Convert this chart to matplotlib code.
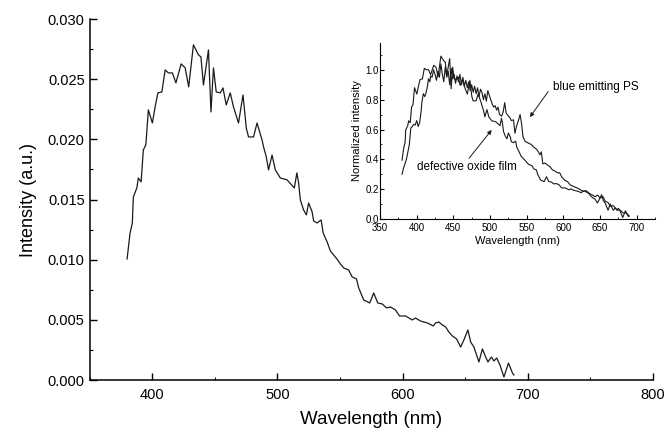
import matplotlib
matplotlib.use("Agg")
import matplotlib.pyplot as plt
from matplotlib.ticker import MultipleLocator, FormatStrFormatter

plt.rcParams['font.family'] = ['Liberation Sans', 'DejaVu Sans']

# ---- main spectrum (defective oxide film) ----
wavelength = [380, 382.4, 384.2, 385.0, 387.8, 389.0, 391.2, 393.0, 395.0, 397.0,
              400.2, 402.4, 404.6, 407.8, 410.4, 413.0, 416.2, 419.0, 423.2, 426.4,
              429.2, 433.0, 437.0, 439.0, 441.0, 445.0, 447.0, 449.0, 451.2, 454.4,
              456.6, 459.2, 462.4, 465.0, 469.0, 472.6, 475.2, 477.0, 481.0, 483.8,
              487.8, 489.0, 491.2, 493.0, 495.8, 498.4, 502.4, 507.8, 513.6, 515.6,
              517.0, 518.4, 521.0, 523.2, 525.0, 527.8, 529.0, 531.8, 535.0, 536.6,
              539.8, 542.4, 545.0, 548.2, 550.4, 553.0, 557.0, 559.8, 563.2, 565.0,
              569.0, 573.8, 577.0, 580.2, 583.8, 587.2, 590.4, 594.4, 597.6, 602.4,
              607.8, 610.4, 614.4, 619.8, 624.6, 626.4, 629.0, 631.8, 634.4, 637.0,
              639.8, 643.2, 646.4, 649.0, 652.2, 654.4, 657.0, 661.0, 663.8, 666.4,
              668.2, 671.0, 673.0, 675.2, 677.8, 681.0, 684.6, 687.8, 689.0]
intensity = [0.01006, 0.01222, 0.01305, 0.01521, 0.01596, 0.01679, 0.01646, 0.01912, 0.01954, 0.02245,
             0.02136, 0.02269, 0.02386, 0.02394, 0.02577, 0.02552, 0.02552, 0.02469, 0.02627, 0.02594,
             0.02436, 0.02785, 0.02702, 0.02685, 0.02452, 0.02743, 0.02228, 0.02594, 0.02394, 0.02386,
             0.02427, 0.02286, 0.02386, 0.02269, 0.02136, 0.02369, 0.02095, 0.02020, 0.02020, 0.02136,
             0.01995, 0.01937, 0.01854, 0.01746, 0.01870, 0.01746, 0.01679, 0.01663, 0.01596, 0.01721,
             0.01638, 0.01496, 0.01413, 0.01372, 0.01471, 0.01397, 0.01322, 0.01305, 0.01330, 0.01222,
             0.01147, 0.01072, 0.01039, 0.00998, 0.00964, 0.00931, 0.00914, 0.00856, 0.00840, 0.00765,
             0.00665, 0.00640, 0.00723, 0.00640, 0.00632, 0.00599, 0.00607, 0.00582, 0.00532, 0.00532,
             0.00499, 0.00515, 0.00490, 0.00474, 0.00449, 0.00474, 0.00482, 0.00457, 0.00441, 0.00399,
             0.00366, 0.00341, 0.00274, 0.00333, 0.00416, 0.00316, 0.00274, 0.00150, 0.00258, 0.00191,
             0.00150, 0.00191, 0.00158, 0.00183, 0.00125, 0.00025, 0.00141, 0.00058, 0.00042]

# normalisation reference used for the inset's oxide-film curve
oxide_norm_ref = 0.0255
oxide_norm = [v / oxide_norm_ref for v in intensity]

# ---- inset: blue emitting PS (normalized) ----
ps_wavelength = [380, 382, 384, 386, 388, 390, 392, 394, 396, 398,
                 400, 402, 404, 406, 407, 409, 411, 413, 415, 416,
                 418, 419, 421, 423, 425, 427, 429, 431, 433, 435,
                 437, 439, 441, 443, 445, 447, 449, 451, 453, 455,
                 457, 459, 461, 463, 465, 467, 469, 471, 473, 475,
                 477, 479, 481, 483, 485, 487, 489, 491, 493, 495,
                 497, 499, 501, 503, 505, 507, 509, 511, 513, 516,
                 518, 520, 522, 525, 527, 529, 532, 534, 536, 539,
                 541, 543, 545, 548, 552, 556, 560, 563, 566, 568,
                 570, 572, 575, 579, 582, 585, 589, 592, 595, 598,
                 602, 606, 609, 613, 618, 622, 627, 631, 636, 640,
                 643, 647, 650, 654, 657, 661, 664, 668, 673, 677,
                 682, 686, 690]
ps_norm = [0.30, 0.34, 0.37, 0.40, 0.45, 0.50, 0.61, 0.62, 0.635, 0.63,
           0.66, 0.62, 0.645, 0.72, 0.78, 0.84, 0.82, 0.85, 0.90, 0.94,
           0.92, 0.96, 0.95, 1.00, 0.97, 0.93, 0.99, 0.95, 1.04, 0.97,
           0.92, 1.02, 0.95, 0.99, 0.90, 1.01, 0.94, 0.97, 0.91, 0.96,
           0.92, 0.97, 0.90, 0.95, 0.89, 0.93, 0.88, 0.92, 0.86, 0.90,
           0.85, 0.89, 0.84, 0.88, 0.82, 0.87, 0.85, 0.80, 0.84, 0.79,
           0.86, 0.83, 0.80, 0.77, 0.75, 0.76, 0.73, 0.75, 0.70, 0.69,
           0.72, 0.78, 0.71, 0.69, 0.68, 0.66, 0.665, 0.575, 0.62, 0.665,
           0.70, 0.64, 0.55, 0.52, 0.51, 0.50, 0.48, 0.47, 0.45, 0.43,
           0.45, 0.37, 0.375, 0.36, 0.35, 0.33, 0.32, 0.31, 0.31, 0.28,
           0.26, 0.25, 0.23, 0.22, 0.21, 0.20, 0.185, 0.19, 0.17, 0.16,
           0.15, 0.16, 0.14, 0.15, 0.12, 0.11, 0.085, 0.09, 0.06, 0.06,
           0.04, 0.04, 0.02]

line_color = '#1a1a1a'

fig = plt.figure(figsize=(6.66, 4.33), dpi=100)
ax = fig.add_axes([0.1344, 0.1224, 0.846, 0.8337])
ax.plot(wavelength, intensity, color=line_color, lw=0.9)
ax.set_xlim(350, 800)
ax.set_ylim(0, 0.030)
for s in ('top', 'right'):
    ax.spines[s].set_visible(False)
for s in ('left', 'bottom'):
    ax.spines[s].set_linewidth(1.1)
ax.xaxis.set_major_locator(MultipleLocator(100))
ax.xaxis.set_minor_locator(MultipleLocator(50))
ax.yaxis.set_major_locator(MultipleLocator(0.005))
ax.yaxis.set_minor_locator(MultipleLocator(0.0025))
ax.yaxis.set_major_formatter(FormatStrFormatter('%.3f'))
ax.tick_params(which='major', direction='in', length=5, width=1.0, labelsize=10.5)
ax.tick_params(which='minor', direction='in', length=2.5, width=0.8)
ax.tick_params(axis='x', pad=6)
ax.set_xticks([400, 500, 600, 700, 800])
ax.set_xlabel('Wavelength (nm)', fontsize=13.5, labelpad=6)
ax.set_ylabel('Intensity (a.u.)', fontsize=13, labelpad=8)

# ---- inset ----
ins = fig.add_axes([0.5706, 0.4942, 0.4129, 0.4065])
ins.patch.set_alpha(0)
ins.plot(wavelength, oxide_norm, color=line_color, lw=0.8)
ins.plot(ps_wavelength, ps_norm, color=line_color, lw=0.8)
ins.set_xlim(350, 725)
ins.set_ylim(0, 1.18)
for s in ('top', 'right'):
    ins.spines[s].set_visible(False)
ins.xaxis.set_major_locator(MultipleLocator(50))
ins.xaxis.set_minor_locator(MultipleLocator(25))
ins.yaxis.set_major_locator(MultipleLocator(0.2))
ins.yaxis.set_minor_locator(MultipleLocator(0.1))
ins.yaxis.set_major_formatter(FormatStrFormatter('%.1f'))
ins.set_xticks([350, 400, 450, 500, 550, 600, 650, 700])
ins.tick_params(which='major', direction='in', length=3, width=0.8, labelsize=7)
ins.tick_params(which='minor', direction='in', length=1.5, width=0.6)
ins.tick_params(axis='y', pad=1)
ins.tick_params(axis='x', pad=3)
ins.set_xlabel('Wavelength (nm)', fontsize=8, labelpad=2)
ins.set_ylabel('Normalized intensity', fontsize=8, labelpad=2)

ins.text(585.8, 0.888, 'blue emitting PS', fontsize=8.5, va='center', ha='left')
ins.annotate('', xy=(554.4, 0.683), xytext=(579.3, 0.854),
             arrowprops=dict(arrowstyle='-|>', lw=0.7, color=line_color,
                             mutation_scale=6, shrinkA=0, shrinkB=0))
ins.annotate('defective oxide film', xy=(502.2, 0.597), xytext=(400.4, 0.349),
             fontsize=8.5, va='center', ha='left',
             arrowprops=dict(arrowstyle='-|>', lw=0.7, color=line_color,
                             mutation_scale=6, shrinkA=0, shrinkB=0,
                             relpos=(0.5, 1.0)))

fig.savefig('out.png', dpi=100)
